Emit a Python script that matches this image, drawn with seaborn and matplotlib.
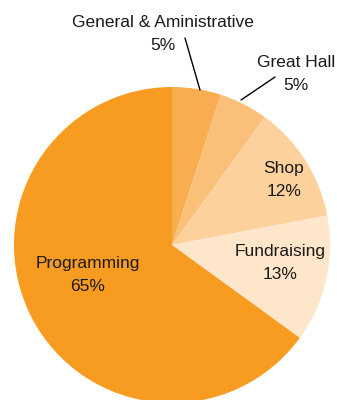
import matplotlib
matplotlib.use("Agg")
import matplotlib.pyplot as plt
import seaborn as sns

sns.set_theme(style="white")
plt.rcParams['font.family'] = ['Liberation Sans', 'DejaVu Sans']

categories = ["General & Aministrative", "Great Hall", "Shop", "Fundraising", "Programming"]
values = [5, 5, 12, 13, 65]
colors = ["#F8AE50", "#FABF79", "#FCD19C", "#FEE6CA", "#F79B21"]

fig = plt.figure(figsize=(3.37, 4.0), dpi=100)
ax = fig.add_axes([0, 0, 1, 1])

wedges, _ = ax.pie(values, colors=colors, startangle=90, counterclock=False,
                   radius=1.0, wedgeprops=dict(linewidth=0))

S = 158.0
cx, cy = 172.0, 245.0
def px(x, y):
    return ((x - cx) / S, (cy - y) / S)

ax.set_xlim(-cx / S, (337 - cx) / S)
ax.set_ylim(-(400 - cy) / S, cy / S)
ax.set_aspect('equal')
ax.axis('off')

tc = "#1a1a1a"
fs = 12.5
ls = 1.65
# inside labels
inside = {"Programming": (88, 275), "Fundraising": (280, 263), "Shop": (284, 180)}
for cat, v in zip(categories, values):
    if cat in inside:
        x, y = px(*inside[cat])
        ax.text(x, y, f"{cat}\n{v}%", ha="center", va="center", fontsize=fs,
                color=tc, linespacing=ls)

# outside labels with leader lines
x, y = px(163, 34)
ax.text(x, y, f"{categories[0]}\n{values[0]}%", ha="center", va="center",
        fontsize=fs, color=tc, linespacing=ls)
ax.plot(*zip(px(185, 38), px(200, 90)), color="black", lw=1)

x, y = px(296, 74)
ax.text(x, y, f"{categories[1]}\n{values[1]}%", ha="center", va="center",
        fontsize=fs, color=tc, linespacing=ls)
ax.plot(*zip(px(275, 77), px(241, 100)), color="black", lw=1)

fig.savefig("out.png", dpi=100)
